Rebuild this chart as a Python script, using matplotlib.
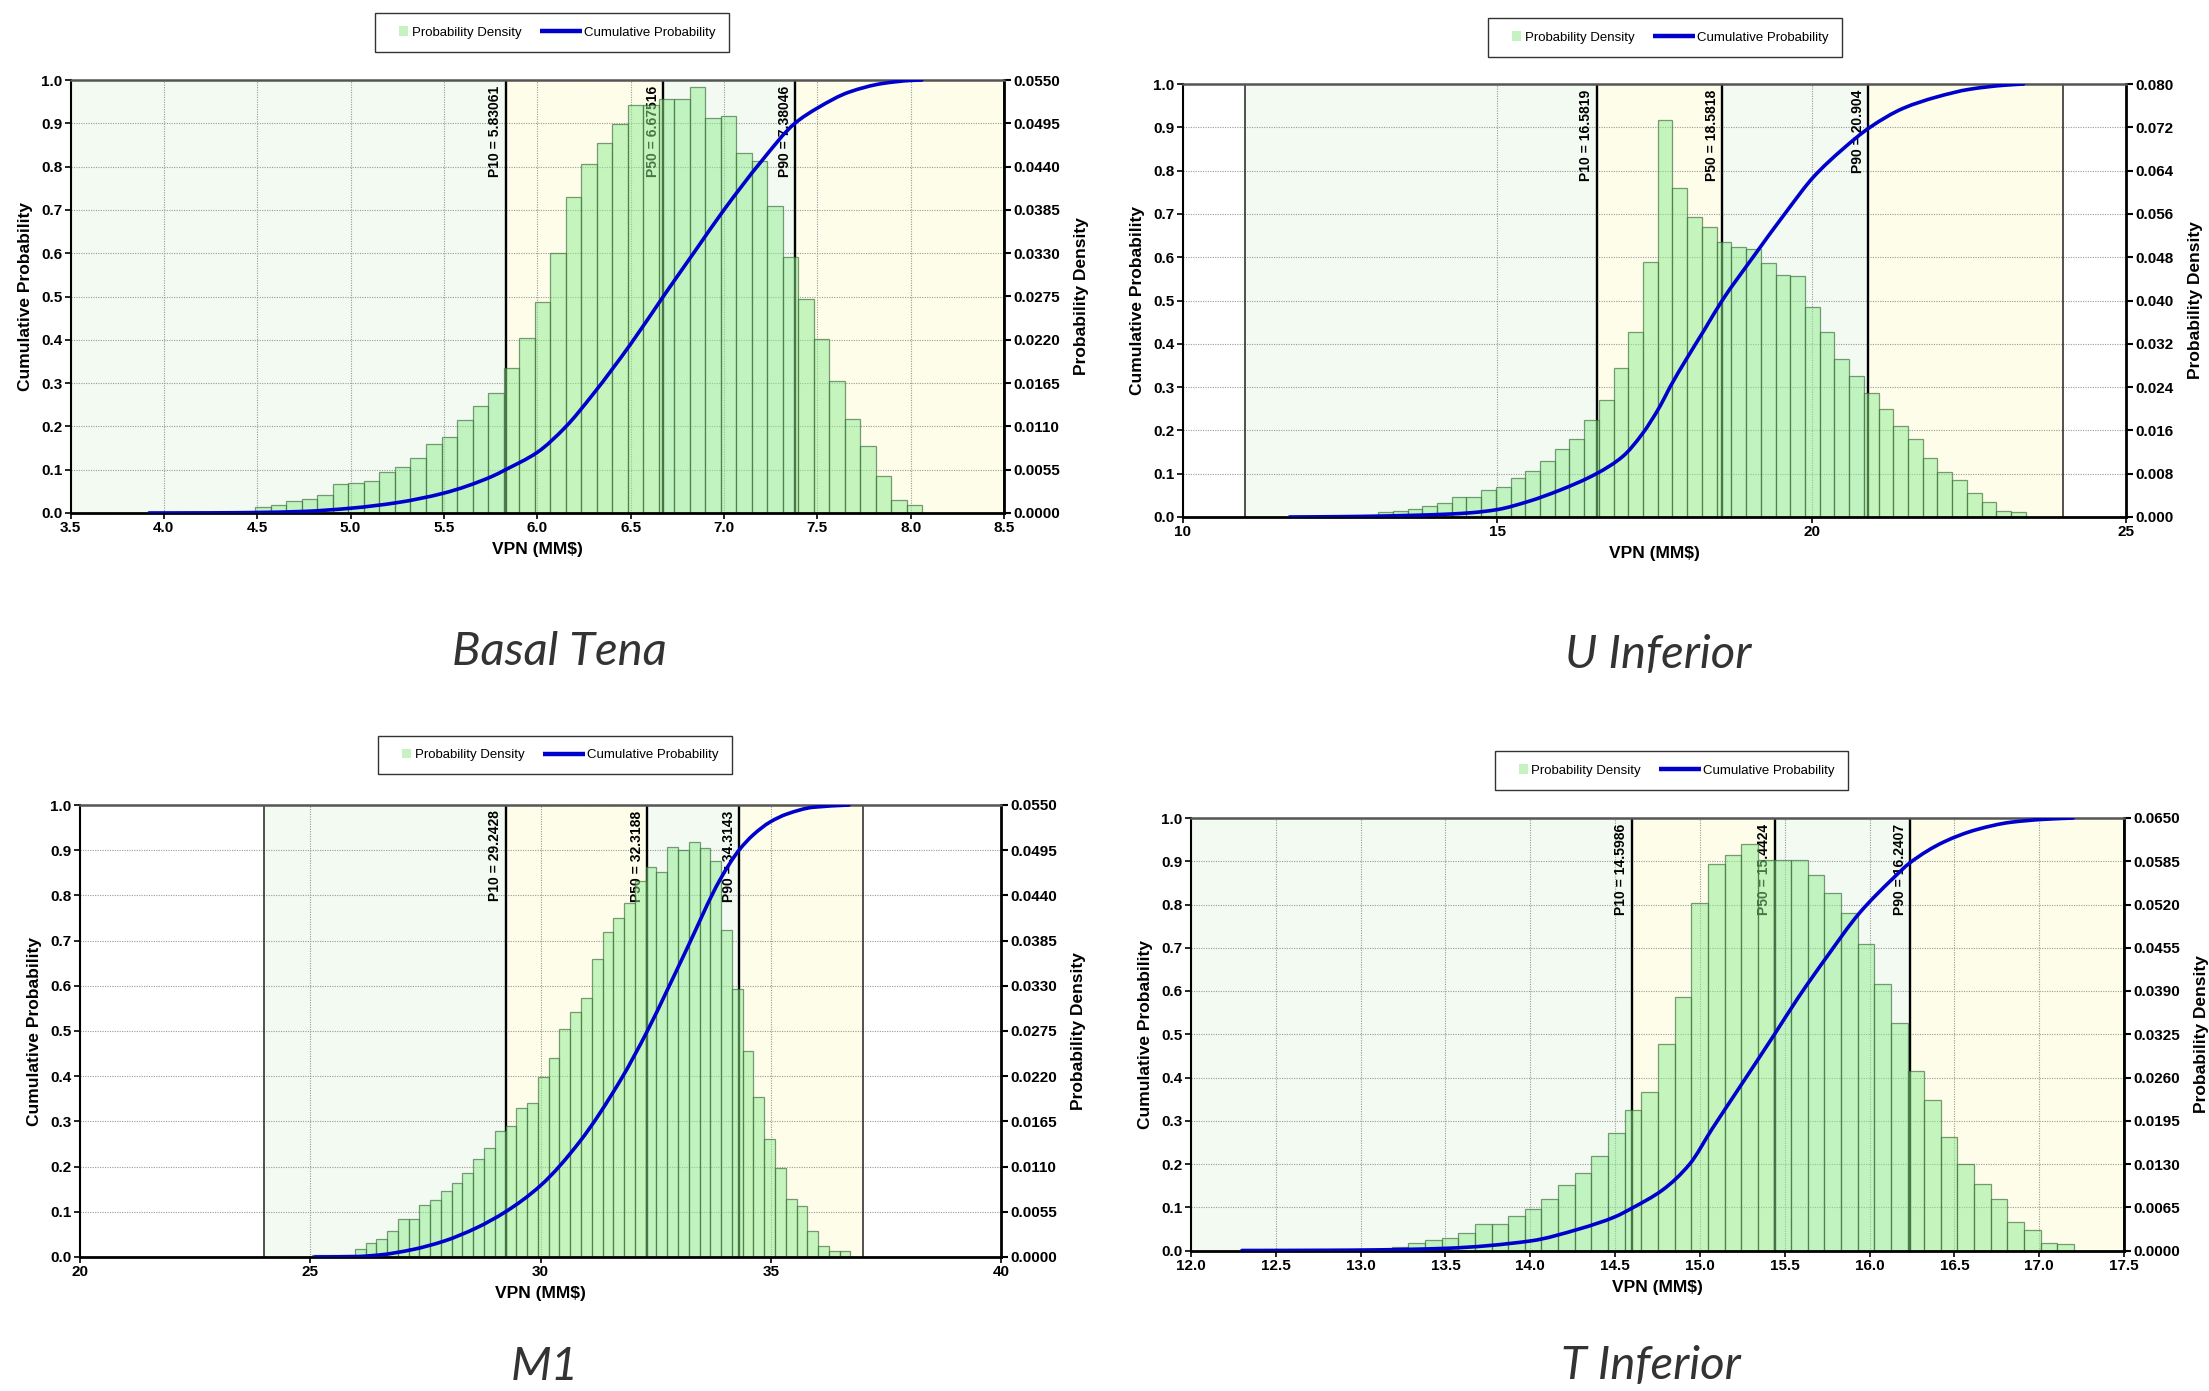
import numpy as np
import matplotlib
matplotlib.use("Agg")
import matplotlib.pyplot as plt
from matplotlib.lines import Line2D
from matplotlib.patches import Patch, Rectangle, PathPatch
from matplotlib.path import Path
from matplotlib.legend_handler import HandlerPatch, HandlerBase

plt.rcParams['font.family'] = ['Liberation Sans', 'DejaVu Sans']

# ---------------- common ----------------
cum_ticks = [0.0, 0.1, 0.2, 0.3, 0.4, 0.5, 0.6, 0.7, 0.8, 0.9, 1.0]
cum_ticklabels = ["0.0", "0.1", "0.2", "0.3", "0.4", "0.5", "0.6", "0.7", "0.8", "0.9", "1.0"]

# ---------------- Basal Tena ----------------
bt_title = "Basal Tena"
bt_bin_start = 4.49
bt_bin_width = 0.0831
bt_density = [0.00077, 0.00099, 0.00149, 0.00176, 0.00231, 0.00363, 0.00380, 0.00402, 0.00517, 0.00578,
              0.00699, 0.00875, 0.00968, 0.01183, 0.01353, 0.01524, 0.01837, 0.02228, 0.02679, 0.03300,
              0.04015, 0.04439, 0.04703, 0.04945, 0.05181, 0.05181, 0.05253, 0.05253, 0.05407, 0.05011,
              0.05049, 0.04571, 0.04477, 0.03905, 0.03256, 0.02712, 0.02211, 0.01683, 0.01188, 0.00853,
              0.00473, 0.00171, 0.00105]
bt_cdf_x = [3.92, 4.25, 4.5, 4.75, 5.0, 5.25, 5.5, 5.75, 5.83, 6.0, 6.15, 6.3, 6.5, 6.675, 6.85, 7.0,
            7.2, 7.38, 7.5, 7.67, 7.85, 8.0, 8.06]
bt_cdf_y = [0.0, 0.0003, 0.0012, 0.0037, 0.011, 0.024, 0.046, 0.083, 0.10, 0.14, 0.198, 0.275, 0.39,
            0.50, 0.608, 0.70, 0.812, 0.90, 0.935, 0.972, 0.992, 0.999, 1.0]
bt_p_values = [5.83061, 6.67516, 7.38046]
bt_p_labels = ["P10 = 5.83061", "P50 = 6.67516", "P90 = 7.38046"]
bt_xticks = [3.5, 4.0, 4.5, 5.0, 5.5, 6.0, 6.5, 7.0, 7.5, 8.0, 8.5]
bt_xticklabels = ["3.5", "4.0", "4.5", "5.0", "5.5", "6.0", "6.5", "7.0", "7.5", "8.0", "8.5"]
bt_dticklabels = ["0.0000", "0.0055", "0.0110", "0.0165", "0.0220", "0.0275", "0.0330", "0.0385",
                  "0.0440", "0.0495", "0.0550"]
bt_range = [3.5, 8.5]

# ---------------- U Inferior ----------------
ui_title = "U Inferior"
ui_bin_start = 13.11
ui_bin_width = 0.234
ui_density = [0.00088, 0.00112, 0.00152, 0.00208, 0.00256, 0.00376, 0.00376, 0.00504, 0.00560, 0.00712,
              0.00848, 0.01040, 0.01256, 0.01448, 0.01800, 0.02160, 0.02744, 0.03424, 0.04712, 0.07328,
              0.06072, 0.05544, 0.05352, 0.05088, 0.04984, 0.04960, 0.04688, 0.04472, 0.04448, 0.03872,
              0.03424, 0.02928, 0.02600, 0.02296, 0.02000, 0.01680, 0.01432, 0.01096, 0.00832, 0.00688,
              0.00440, 0.00280, 0.00120, 0.00088]
ui_cdf_x = [11.7, 12.5, 13.1, 13.7, 14.27, 14.6, 15.0, 15.5, 16.0, 16.58, 17.0, 17.3, 17.6, 17.75, 18.0,
            18.3, 18.58, 19.07, 19.6, 20.03, 20.5, 20.93, 21.46, 21.99, 22.52, 23.05, 23.37]
ui_cdf_y = [0.0, 0.0008, 0.002, 0.004, 0.007, 0.010, 0.017, 0.036, 0.062, 0.10, 0.14, 0.19, 0.258, 0.30,
            0.362, 0.433, 0.50, 0.60, 0.705, 0.785, 0.85, 0.90, 0.944, 0.970, 0.988, 0.997, 1.0]
ui_p_values = [16.5819, 18.5818, 20.904]
ui_p_labels = ["P10 = 16.5819", "P50 = 18.5818", "P90 = 20.904"]
ui_xticks = [10, 15, 20, 25]
ui_xticklabels = ["10", "15", "20", "25"]
ui_dticklabels = ["0.000", "0.008", "0.016", "0.024", "0.032", "0.040", "0.048", "0.056", "0.064",
                  "0.072", "0.080"]
ui_range = [11.0, 24.0]

# ---------------- M1 ----------------
m1_title = "M1"
m1_bin_start = 25.03
m1_bin_width = 0.234
m1_density = [0.00022, 0.00022, 0.00022, 0.00028, 0.00099, 0.00165, 0.00215, 0.00314, 0.00457, 0.00457,
              0.00627, 0.00699, 0.00809, 0.00902, 0.01023, 0.01188, 0.01331, 0.01535, 0.01595, 0.01815,
              0.01870, 0.02195, 0.02420, 0.02772, 0.02981, 0.03157, 0.03625, 0.03955, 0.04131, 0.04312,
              0.04576, 0.04741, 0.04686, 0.04994, 0.04950, 0.05055, 0.04972, 0.04824, 0.03977, 0.03267,
              0.02503, 0.01947, 0.01436, 0.01089, 0.00710, 0.00622, 0.00319, 0.00132, 0.00072, 0.00072]
m1_cdf_x = [25.1, 26.0, 26.5, 27.2, 27.9, 28.6, 29.24, 30.0, 30.85, 31.73, 32.32, 32.75, 33.17, 33.9,
            34.31, 34.62, 34.98, 35.35, 35.92, 36.7]
m1_cdf_y = [0.0, 0.001, 0.0045, 0.016, 0.035, 0.064, 0.10, 0.158, 0.255, 0.39, 0.50, 0.59, 0.68, 0.835,
            0.90, 0.934, 0.962, 0.980, 0.995, 1.0]
m1_p_values = [29.2428, 32.3188, 34.3143]
m1_p_labels = ["P10 = 29.2428", "P50 = 32.3188", "P90 = 34.3143"]
m1_xticks = [20, 25, 30, 35, 40]
m1_xticklabels = ["20", "25", "30", "35", "40"]
m1_dticklabels = bt_dticklabels
m1_range = [24.0, 37.0]

# ---------------- T Inferior ----------------
ti_title = "T Inferior"
ti_bin_start = 13.183
ti_bin_width = 0.0981
ti_density = [0.00052, 0.00111, 0.00163, 0.00189, 0.00260, 0.00397, 0.00397, 0.00514, 0.00631, 0.00780,
              0.00988, 0.01170, 0.01417, 0.01762, 0.02119, 0.02386, 0.03107, 0.03809, 0.05226, 0.05811,
              0.05941, 0.06110, 0.05876, 0.05876, 0.05876, 0.05636, 0.05376, 0.05070, 0.04609, 0.04004,
              0.03419, 0.02704, 0.02256, 0.01703, 0.01300, 0.01001, 0.00780, 0.00429, 0.00312, 0.00111,
              0.00091]
ti_cdf_x = [12.3, 12.8, 13.11, 13.5, 14.0, 14.29, 14.5, 14.6, 14.78, 14.94, 15.07, 15.23, 15.44, 15.58,
            15.75, 15.94, 16.14, 16.24, 16.44, 16.63, 16.83, 17.03, 17.2]
ti_cdf_y = [0.0, 0.0005, 0.0015, 0.005, 0.022, 0.05, 0.078, 0.098, 0.14, 0.20, 0.28, 0.375, 0.50,
            0.585, 0.68, 0.78, 0.861, 0.897, 0.945, 0.973, 0.99, 0.997, 1.0]
ti_p_values = [14.5986, 15.4424, 16.2407]
ti_p_labels = ["P10 = 14.5986", "P50 = 15.4424", "P90 = 16.2407"]
ti_xticks = [12.0, 12.5, 13.0, 13.5, 14.0, 14.5, 15.0, 15.5, 16.0, 16.5, 17.0, 17.5]
ti_xticklabels = ["12.0", "12.5", "13.0", "13.5", "14.0", "14.5", "15.0", "15.5", "16.0", "16.5", "17.0", "17.5"]
ti_dticklabels = ["0.0000", "0.0065", "0.0130", "0.0195", "0.0260", "0.0325", "0.0390", "0.0455",
                  "0.0520", "0.0585", "0.0650"]
ti_range = [12.0, 17.5]

legend_labels = ["Probability Density", "Cumulative Probability"]

# ---------------- styles ----------------
W, H = 2209, 1391
MINT = '#f2faf2'
CREAM = '#fdfdea'
BAR_FACE = (0.56, 0.93, 0.56, 0.50)
BAR_EDGE = (0.22, 0.42, 0.22, 0.65)
BLUE = '#0000cc'
TICK_FS = 11
LABEL_FS = 12.5


def square_patch(legend, orig_handle, xdescent, ydescent, width, height, fontsize):
    s = height
    return Rectangle((-xdescent + width - s - 1, -ydescent + (height - s) / 2), s, s)


class LongLineHandler(HandlerBase):
    def create_artists(self, legend, orig_handle, xdescent, ydescent, width, height, fontsize, trans):
        y = -ydescent + height / 2.0
        ln = Line2D([-xdescent - width, width - xdescent], [y, y], color=orig_handle.get_color(),
                    lw=orig_handle.get_linewidth(), solid_capstyle='butt')
        ln.set_transform(trans)
        return [ln]


def smooth_path(x, y):
    """Monotone cubic (Hermite -> Bezier) path through the read points."""
    x = np.asarray(x, float)
    y = np.asarray(y, float)
    h = np.diff(x)
    d = np.diff(y) / h
    m = np.zeros_like(x)
    m[0] = d[0]
    m[-1] = d[-1]
    for i in range(1, len(x) - 1):
        if d[i - 1] * d[i] <= 0:
            m[i] = 0.0
        else:
            w1 = 2 * h[i] + h[i - 1]
            w2 = h[i] + 2 * h[i - 1]
            m[i] = (w1 + w2) / (w1 / d[i - 1] + w2 / d[i])
    verts = [(x[0], y[0])]
    codes = [Path.MOVETO]
    for i in range(len(x) - 1):
        verts.append((x[i] + h[i] / 3, y[i] + m[i] * h[i] / 3))
        verts.append((x[i + 1] - h[i] / 3, y[i + 1] - m[i + 1] * h[i] / 3))
        verts.append((x[i + 1], y[i + 1]))
        codes += [Path.CURVE4] * 3
    return Path(verts, codes)


def px_rect(l, t, r, b):
    return [l / W, 1 - b / H, (r - l) / W, (b - t) / H]


def draw_panel(fig, rect, title, title_xy, legend_xy, bin_start, bin_width, density,
               cdf_x, cdf_y, p_values, p_labels, xticks, xticklabels, dticklabels, rng):
    ax = fig.add_axes(rect)
    ax.set_xlim(xticks[0], xticks[-1])
    ax.set_ylim(0, 1)
    bounds = [rng[0]] + list(p_values) + [rng[1]]
    colors = [MINT, CREAM, MINT, CREAM]
    for i in range(4):
        ax.axvspan(bounds[i], bounds[i + 1], color=colors[i], lw=0, zorder=0)
    for b in rng:
        ax.axvline(b, color='#222222', lw=1.1, zorder=2)
    for p, lab in zip(p_values, p_labels):
        ax.axvline(p, color='black', lw=1.7, zorder=2)
        ax.annotate(lab, xy=(p, 1.0), xytext=(-2.5, -4), textcoords='offset points',
                    ha='right', va='top', rotation=90, fontsize=10, fontweight='bold',
                    color='black', zorder=2)
    ax.set_xticks(xticks)
    ax.set_xticklabels(xticklabels, fontweight='bold', fontsize=TICK_FS)
    ax.set_yticks(cum_ticks)
    ax.set_yticklabels(cum_ticklabels, fontweight='bold', fontsize=TICK_FS)
    ax.grid(True, color='#9a9a9a', linestyle=(0, (1, 1.2)), lw=0.8)
    ax.tick_params(direction='out', length=4, width=1.2, pad=2)
    ax.set_ylabel("Cumulative Probability", fontsize=LABEL_FS, fontweight='bold', labelpad=6)
    ax.set_xlabel("VPN (MM$)", fontsize=LABEL_FS, fontweight='bold', labelpad=5)
    for s in ax.spines.values():
        s.set_visible(False)

    ax2 = ax.twinx()
    dvals = [float(v) for v in dticklabels]
    ax2.set_ylim(0, dvals[-1])
    ax2.set_yticks(dvals)
    ax2.set_yticklabels(dticklabels, fontweight='bold', fontsize=TICK_FS)
    ax2.tick_params(direction='out', length=5, width=1.5, pad=2)
    edges = bin_start + bin_width * np.arange(len(density))
    ax2.bar(edges, density, width=bin_width, align='edge', facecolor=BAR_FACE,
            edgecolor=BAR_EDGE, lw=0.9, zorder=2)
    cdf = PathPatch(smooth_path(cdf_x, cdf_y), fill=False, edgecolor=BLUE, lw=2.6,
                    transform=ax.transData, zorder=3, capstyle='round', joinstyle='round')
    ax2.add_artist(cdf)
    ax2.set_ylabel("Probability Density", fontsize=LABEL_FS, fontweight='bold', labelpad=10,
                   rotation=90)
    ax2.spines['right'].set_linewidth(2.0)
    ax2.spines['bottom'].set_linewidth(2.0)
    ax2.spines['left'].set_linewidth(1.5)
    ax2.spines['top'].set_linewidth(1.8)
    ax2.spines['top'].set_color('#555555')
    for k in ('right', 'bottom', 'left'):
        ax2.spines[k].set_color('black')
    ax.set_xlim(xticks[0], xticks[-1])

    sq = Patch(facecolor='#c5f2c0', edgecolor='none')
    ln = Line2D([], [], color=BLUE, lw=3.2)
    leg = fig.legend([sq, ln], legend_labels, loc='center', bbox_to_anchor=legend_xy,
                     bbox_transform=fig.transFigure, ncol=2, fontsize=9.5, frameon=True,
                     fancybox=False, handlelength=1.6, handleheight=0.7, handletextpad=0.15,
                     columnspacing=3.0, borderpad=1.0,
                     handler_map={sq: HandlerPatch(patch_func=square_patch),
                                  ln: LongLineHandler()})
    fr = leg.get_frame()
    fr.set_edgecolor('#333333')
    fr.set_linewidth(1.0)
    fr.set_alpha(1.0)

    fig.text(title_xy[0], title_xy[1], title, ha='center', va='center', fontsize=34,
             style='italic', fontweight='normal', family=['Lato', 'DejaVu Sans'], color='#333333')
    return ax, ax2


fig = plt.figure(figsize=(W / 100, H / 100), dpi=100)
fig.patch.set_facecolor('white')

draw_panel(fig, px_rect(70.5, 80, 1004, 513), bt_title, (559 / W, 1 - 652 / H), (552 / W, 1 - 32.5 / H),
           bt_bin_start, bt_bin_width, bt_density, bt_cdf_x, bt_cdf_y, bt_p_values, bt_p_labels,
           bt_xticks, bt_xticklabels, bt_dticklabels, bt_range)
draw_panel(fig, px_rect(1182.5, 84, 2126, 517), ui_title, (1658 / W, 1 - 655 / H), (1665 / W, 1 - 37.5 / H),
           ui_bin_start, ui_bin_width, ui_density, ui_cdf_x, ui_cdf_y, ui_p_values, ui_p_labels,
           ui_xticks, ui_xticklabels, ui_dticklabels, ui_range)
draw_panel(fig, px_rect(80, 805, 1001, 1257), m1_title, (545 / W, 1 - 1367 / H), (555 / W, 1 - 755 / H),
           m1_bin_start, m1_bin_width, m1_density, m1_cdf_x, m1_cdf_y, m1_p_values, m1_p_labels,
           m1_xticks, m1_xticklabels, m1_dticklabels, m1_range)
draw_panel(fig, px_rect(1191, 818, 2124, 1250.5), ti_title, (1651 / W, 1 - 1366 / H), (1671.5 / W, 1 - 770.5 / H),
           ti_bin_start, ti_bin_width, ti_density, ti_cdf_x, ti_cdf_y, ti_p_values, ti_p_labels,
           ti_xticks, ti_xticklabels, ti_dticklabels, ti_range)

fig.savefig("out.png", dpi=100, facecolor='white')
